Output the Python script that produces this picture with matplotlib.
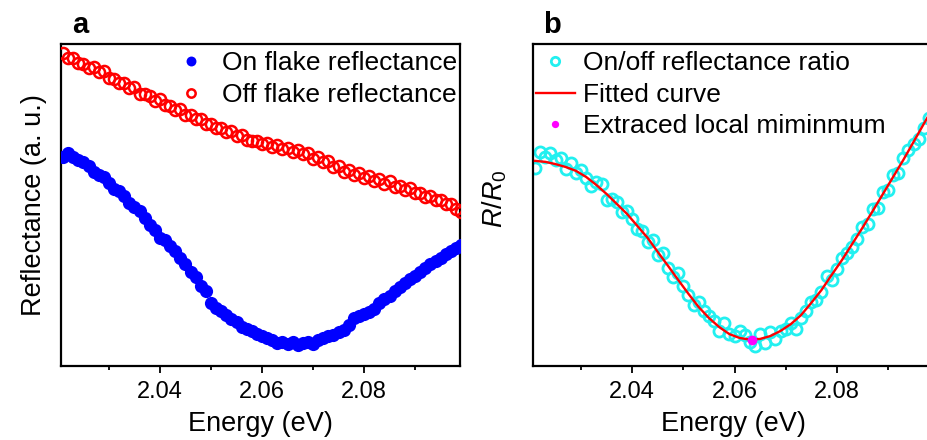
import numpy as np
import matplotlib
matplotlib.use("Agg")
from matplotlib import pyplot as plt
from matplotlib.ticker import MultipleLocator

plt.rcParams['font.family'] = ['Liberation Sans', 'DejaVu Sans']
plt.rcParams['mathtext.fontset'] = 'custom'
plt.rcParams['mathtext.rm'] = 'Liberation Sans'
plt.rcParams['mathtext.it'] = 'Liberation Sans:italic'

# energy grid (eV), 1 meV step
energy = np.linspace(2.021, 2.099, 79)

# panel a: reflectance (a.u.)
off_flake = [0.972, 0.955, 0.958, 0.940, 0.938, 0.925, 0.930, 0.912, 0.916, 0.893,
             0.892, 0.878, 0.880, 0.862, 0.866, 0.846, 0.845, 0.838, 0.824, 0.830,
             0.811, 0.809, 0.796, 0.797, 0.781, 0.780, 0.766, 0.768, 0.752, 0.753,
             0.738, 0.740, 0.726, 0.729, 0.713, 0.716, 0.703, 0.698, 0.700, 0.689,
             0.694, 0.681, 0.686, 0.673, 0.677, 0.664, 0.672, 0.658, 0.660, 0.644,
             0.650, 0.632, 0.637, 0.618, 0.620, 0.604, 0.609, 0.592, 0.598, 0.584,
             0.590, 0.574, 0.580, 0.566, 0.573, 0.557, 0.560, 0.547, 0.552, 0.536,
             0.538, 0.525, 0.528, 0.514, 0.517, 0.503, 0.502, 0.487, 0.478]
on_flake = [0.650, 0.661, 0.650, 0.640, 0.632, 0.621, 0.603, 0.593, 0.586, 0.568,
            0.551, 0.543, 0.527, 0.506, 0.494, 0.482, 0.461, 0.437, 0.422, 0.398,
            0.391, 0.372, 0.356, 0.336, 0.317, 0.293, 0.275, 0.250, 0.233, 0.195,
            0.180, 0.172, 0.159, 0.147, 0.136, 0.121, 0.114, 0.109, 0.100, 0.093,
            0.088, 0.080, 0.072, 0.074, 0.068, 0.075, 0.066, 0.070, 0.073, 0.068,
            0.082, 0.087, 0.092, 0.096, 0.105, 0.113, 0.128, 0.148, 0.155, 0.160,
            0.168, 0.178, 0.195, 0.207, 0.218, 0.232, 0.245, 0.257, 0.270, 0.281,
            0.292, 0.303, 0.316, 0.326, 0.335, 0.348, 0.358, 0.366, 0.377]

# panel b: on/off ratio
ratio = [0.615, 0.665, 0.648, 0.660, 0.640, 0.645, 0.612, 0.630, 0.598, 0.610,
         0.585, 0.560, 0.572, 0.565, 0.515, 0.520, 0.508, 0.478, 0.482, 0.455,
         0.425, 0.418, 0.385, 0.392, 0.345, 0.350, 0.305, 0.275, 0.290, 0.250,
         0.222, 0.190, 0.200, 0.172, 0.155, 0.140, 0.110, 0.135, 0.100, 0.092,
         0.108, 0.095, 0.075, 0.062, 0.098, 0.070, 0.105, 0.085, 0.110, 0.115,
         0.135, 0.115, 0.150, 0.172, 0.198, 0.205, 0.230, 0.280, 0.268, 0.300,
         0.335, 0.350, 0.370, 0.395, 0.432, 0.442, 0.488, 0.492, 0.540, 0.548,
         0.592, 0.600, 0.645, 0.670, 0.688, 0.705, 0.740, 0.770, 0.790]

# fitted curve, 2 meV step
fit_energy = np.linspace(2.021, 2.099, 40)
fit_vals = [0.637, 0.634, 0.627, 0.618, 0.606, 0.587, 0.562, 0.534, 0.503, 0.472,
            0.435, 0.398, 0.354, 0.311, 0.267, 0.224, 0.183, 0.149, 0.121, 0.099,
            0.087, 0.082, 0.084, 0.093, 0.109, 0.130, 0.158, 0.196, 0.236, 0.283,
            0.329, 0.379, 0.429, 0.481, 0.534, 0.587, 0.640, 0.696, 0.752, 0.807]

min_energy = [2.0635]
min_val = [0.082]

xlim = (2.0206, 2.0988)

fig = plt.figure(figsize=(9.27, 4.40), dpi=100)
ax1 = fig.add_axes([61 / 927, 74 / 440, 399 / 927, 322 / 440])
ax2 = fig.add_axes([533 / 927, 74 / 440, 400 / 927, 322 / 440])

for ax in (ax1, ax2):
    ax.set_xlim(*xlim)
    ax.set_ylim(0, 1)
    ax.xaxis.set_minor_locator(MultipleLocator(0.01))
    ax.set_xticks([2.04, 2.06, 2.08])
    ax.set_xticklabels(['2.04', '2.06', '2.08'])
    ax.set_yticks([])
    ax.tick_params(axis='x', which='major', direction='out', length=5, width=1.3,
                   labelsize=17, pad=6)
    ax.tick_params(axis='x', which='minor', direction='out', length=3, width=1.3)
    for s in ax.spines.values():
        s.set_linewidth(1.6)
    ax.set_xlabel('Energy (eV)', fontsize=19.5)
    ax.xaxis.set_label_coords(0.5, -0.14)

ax1.plot(energy, on_flake, 'o', color='#0000FF', ms=9.5, mew=0,
         label='On flake reflectance', zorder=3)
ax1.plot(energy, off_flake, 'o', color='#FF0000', mfc='none', ms=8, mew=1.8,
         label='Off flake reflectance', zorder=3)
ax1.set_ylabel('Reflectance (a. u.)', fontsize=19.5)
ax1.yaxis.set_label_coords(-0.035, 0.5)
ax1.legend(loc='upper right', bbox_to_anchor=(1.0, 0.985), frameon=False,
           fontsize=19, handlelength=1.5, handletextpad=0.45, labelspacing=0.28,
           borderpad=0.1, borderaxespad=0.0, markerscale=0.75)

ax2.plot(energy, ratio, 'o', color='#22F0F0', mfc='none', ms=8, mew=2.0,
         label='On/off reflectance ratio', zorder=2)
ax2.plot(fit_energy, fit_vals, '-', color='#FF0000', lw=1.7,
         label='Fitted curve', zorder=3)
ax2.plot(min_energy, min_val, 'o', color='#FF00FF', ms=7, mew=0,
         label='Extraced local miminmum', zorder=4)
ax2.set_ylabel(r'$R/R_{0}$', fontsize=19.5)
ax2.yaxis.set_label_coords(-0.06, 0.52)
ax2.legend(loc='upper left', bbox_to_anchor=(0.0, 0.985), frameon=False,
           fontsize=19, handlelength=1.5, handletextpad=0.3, labelspacing=0.28,
           borderpad=0.1, borderaxespad=0.0, markerscale=0.75)

fig.text(72 / 927, 407 / 440, 'a', fontsize=21, fontweight='bold', va='baseline')
fig.text(543 / 927, 407 / 440, 'b', fontsize=21, fontweight='bold', va='baseline')

fig.savefig('out.png', dpi=100)
